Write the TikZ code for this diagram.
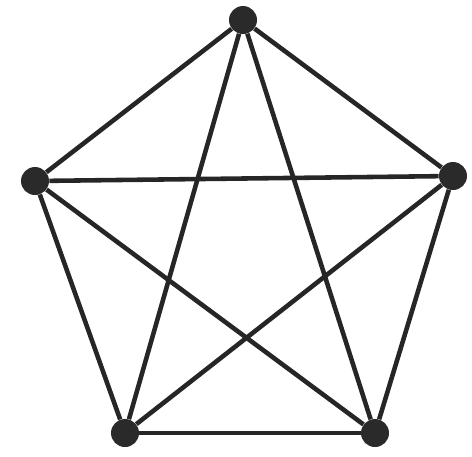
\documentclass[tikz,border=0pt]{standalone}
\usepackage{tikz}
\definecolor{vertexgray}{HTML}{2A2A2A}
\definecolor{edgegray}{HTML}{262626}

\begin{document}
\begin{tikzpicture}[
  x=0.2mm, y=-0.2mm,
  vertex/.style={circle, fill=vertexgray, draw=none, minimum size=5.6mm, inner sep=0pt},
  edge/.style={edgegray, line width=2.6pt},
]
  \useasboundingbox (0,0) rectangle (472,456);

  \node[vertex] (top) at (243,20) {};
  \node[vertex] (left) at (35,181) {};
  \node[vertex] (right) at (453,176) {};
  \node[vertex] (botleft) at (125,433) {};
  \node[vertex] (botright) at (375,433) {};

  \draw[edge] (top) -- (left);
  \draw[edge] (top) -- (right);
  \draw[edge] (top) -- (botleft);
  \draw[edge] (top) -- (botright);
  \draw[edge] (left) -- (right);
  \draw[edge] (left) -- (botleft);
  \draw[edge] (left) -- (botright);
  \draw[edge] (right) -- (botleft);
  \draw[edge] (right) -- (botright);
  \draw[edge] (botleft) -- (botright);
\end{tikzpicture}
\end{document}
